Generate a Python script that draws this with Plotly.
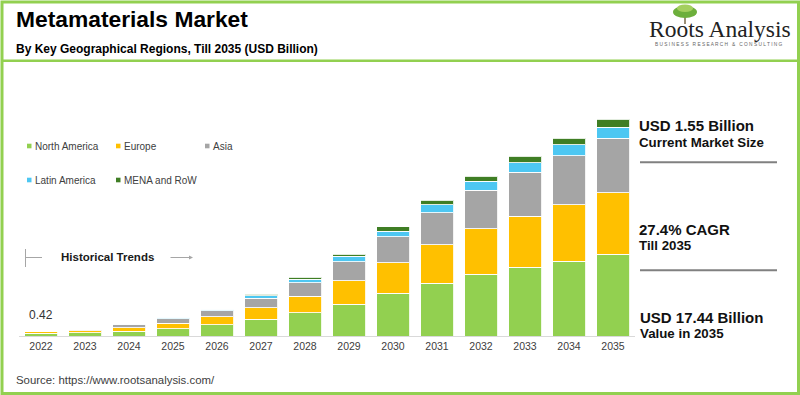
import plotly.graph_objects as go

years = ["2022", "2023", "2024", "2025", "2026", "2027", "2028", "2029",
         "2030", "2031", "2032", "2033", "2034", "2035"]
north_america = [0.24, 0.26, 0.38, 0.57, 0.92, 1.34, 1.88, 2.57, 3.43, 4.24, 4.96, 5.53, 6.01, 6.57]
europe = [0.09, 0.17, 0.30, 0.46, 0.61, 0.94, 1.31, 1.88, 2.47, 3.11, 3.65, 4.10, 4.56, 4.96]
asia = [0.05, 0.10, 0.22, 0.35, 0.51, 0.75, 1.10, 1.53, 2.09, 2.57, 3.11, 3.54, 3.94, 4.37]
latin_america = [0.02, 0.02, 0.03, 0.13, 0.12, 0.19, 0.29, 0.43, 0.43, 0.64, 0.75, 0.78, 0.88, 0.91]
mena_row = [0.02, 0.02, 0.02, 0.03, 0.05, 0.14, 0.14, 0.16, 0.35, 0.35, 0.38, 0.51, 0.51, 0.62]

series = [
    ("North America", north_america, "#92D050"),
    ("Europe", europe, "#FFC000"),
    ("Asia", asia, "#A5A5A5"),
    ("Latin America", latin_america, "#4DC7F2"),
    ("MENA and RoW", mena_row, "#3F7E24"),
]

W, H = 800, 395
ML, MR, MT, MB = 19, 165, 87, 59
PW = W - ML - MR
PH = H - MT - MB


def px(x):
    return (x - ML) / PW


def py(y):
    return (H - MB - y) / PH


fig = go.Figure()
for name, vals, col in series:
    fig.add_trace(go.Bar(
        x=years, y=vals, name=name,
        marker=dict(color=col, line=dict(color="rgba(255,255,255,0.85)", width=1)),
        showlegend=False,
    ))

FONT = "Liberation Sans, Arial, sans-serif"
ann = []


def text(x, y, t, size, color="#000000", bold=False, xanchor="left", family=FONT):
    ann.append(dict(
        x=px(x), y=py(y), xref="paper", yref="paper",
        text=f"<b>{t}</b>" if bold else t, showarrow=False,
        xanchor=xanchor, yanchor="middle",
        font=dict(size=size, color=color, family=family),
    ))


# Titles
text(14, 19, "Metamaterials Market", 22.8, "#000000", True)
text(14, 49, "By Key Geographical Regions, Till 2035 (USD Billion)", 12, "#000000", True)

# Logo
text(647, 29, "Roots Analysis", 23.5, "#222222", False, family="Liberation Serif, Times New Roman, serif")
text(653, 45, "B U S I N E S S &nbsp; R E S E A R C H &nbsp; &amp; &nbsp; C O N S U L T I N G", 4.8, "#666666")

# Legend
legend_items = [
    (27, 146, "North America", "#92D050"),
    (116, 146, "Europe", "#FFC000"),
    (205, 146, "Asia", "#A5A5A5"),
    (27, 180, "Latin America", "#4DC7F2"),
    (116, 180, "MENA and RoW", "#3F7E24"),
]
shapes = []
for x, y, name, col in legend_items:
    shapes.append(dict(type="rect", xref="paper", yref="paper",
                       x0=px(x), x1=px(x + 4.5), y0=py(y - 2.3), y1=py(y + 2.3),
                       fillcolor=col, line=dict(width=0)))
    text(x + 6, y, name, 10, "#404040")

# Historical trends
text(59, 257, "Historical Trends", 11.5, "#1a1a1a", True)
shapes.append(dict(type="line", xref="paper", yref="paper",
                   x0=px(25.5), x1=px(25.5), y0=py(249), y1=py(267),
                   line=dict(color="#A6A6A6", width=1)))
shapes.append(dict(type="line", xref="paper", yref="paper",
                   x0=px(25.5), x1=px(42), y0=py(257.5), y1=py(257.5),
                   line=dict(color="#A6A6A6", width=1)))
ann.append(dict(x=px(193), y=py(257.5), ax=-24, ay=0,
                xref="paper", yref="paper",
                text="", showarrow=True, arrowhead=2, arrowsize=0.8, arrowwidth=1,
                arrowcolor="#A6A6A6"))

# First value label
text(27, 315, "0.42", 12, "#333333")

# Right-side stats
text(637, 125, "USD 1.55 Billion", 15, "#111111", True)
text(637, 142, "Current Market Size", 13.3, "#111111", True)
text(637, 229, "27.4% CAGR", 15, "#111111", True)
text(637, 245, "Till 2035", 13.3, "#111111", True)
text(638, 317, "USD 17.44 Billion", 15, "#111111", True)
text(638, 333, "Value in 2035", 13.3, "#111111", True)
for yy in (162.3, 270.3):
    shapes.append(dict(type="line", xref="paper", yref="paper",
                       x0=px(640), x1=px(777), y0=py(yy), y1=py(yy),
                       line=dict(color="#808080", width=2)))

# Source
text(14, 380, "Source: https://www.rootsanalysis.com/", 11.4, "#404040")

# Border and divider
shapes.append(dict(type="rect", xref="paper", yref="paper",
                   x0=px(2), x1=px(798.5), y0=py(2), y1=py(393.5),
                   line=dict(color="#92D050", width=3), fillcolor="rgba(0,0,0,0)", layer="above"))
shapes.append(dict(type="line", xref="paper", yref="paper",
                   x0=px(2), x1=px(798.5), y0=py(60.7), y1=py(60.7),
                   line=dict(color="#92D050", width=2.5)))

# Logo tree
shapes.append(dict(type="line", xref="paper", yref="paper",
                   x0=px(685), x1=px(685), y0=py(14), y1=py(24),
                   line=dict(color="#7A6A4A", width=1.5)))
shapes.append(dict(type="circle", xref="paper", yref="paper",
                   x0=px(673), x1=px(697), y0=py(18), y1=py(6),
                   fillcolor="#6DAF3C", line=dict(width=0)))
shapes.append(dict(type="circle", xref="paper", yref="paper",
                   x0=px(677), x1=px(693), y0=py(12), y1=py(4.5),
                   fillcolor="#A4CF5E", line=dict(width=0)))

fig.update_layout(
    width=W, height=H,
    margin=dict(l=ML, r=MR, t=MT, b=MB),
    barmode="stack", bargap=0.25,
    paper_bgcolor="white", plot_bgcolor="white",
    xaxis=dict(type="category", showgrid=False, showline=True, linecolor="#D9D9D9",
               linewidth=1, ticks="", tickfont=dict(size=10.5, color="#404040", family=FONT),
               range=[-0.5, 13.5], fixedrange=True),
    yaxis=dict(range=[0, PH / 12.43], showgrid=False, showticklabels=False,
               zeroline=False, showline=False, fixedrange=True),
    annotations=ann, shapes=shapes,
    font=dict(family=FONT),
)

fig.write_html("out.html", config={"displayModeBar": False},
               post_script="document.body.style.margin='0';document.body.style.overflow='hidden';")
